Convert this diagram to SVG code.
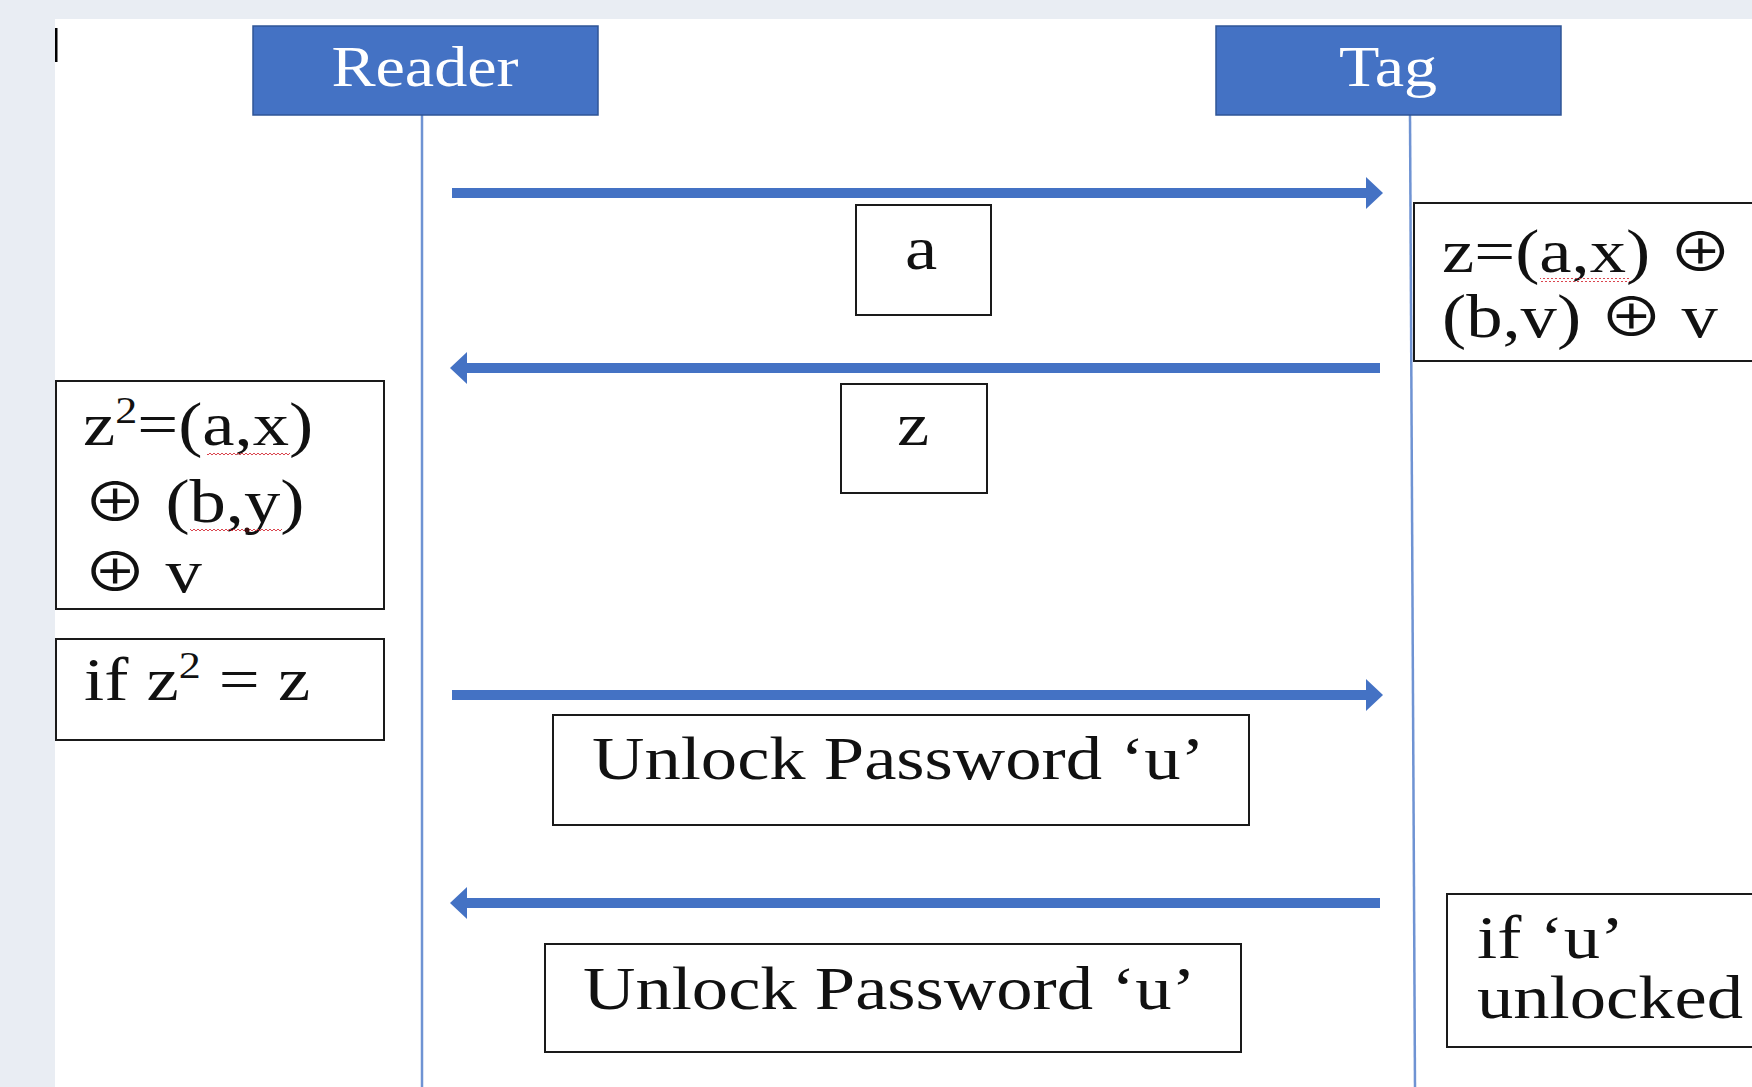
<svg xmlns="http://www.w3.org/2000/svg" width="1752" height="1087" viewBox="0 0 1752 1087">
<defs>
<style>
.bg{fill:#E9EDF3}
.panel{fill:#FFFFFF}
.actor{fill:#4472C4;stroke:#2F5597;stroke-width:1.5}
.actorText{font-family:"Liberation Serif","DejaVu Serif",serif;font-size:57px;fill:#FFFFFF;text-anchor:middle}
.life{stroke:#6F93D3;stroke-width:2.5;fill:none}
.box{fill:#FFFFFF;stroke:#1A1A1A;stroke-width:2}
.t{font-family:"Liberation Serif","DejaVu Serif",serif;font-size:61px;fill:#111111}
.mid{text-anchor:middle}
.op{font-family:"Noto Sans CJK SC","DejaVu Serif",sans-serif;font-size:54px}
.sup{font-size:37px}
.msg{stroke:#4472C4;stroke-width:10;fill:none}
.sq{fill:url(#squiggle)}
</style>
<marker id="head" markerUnits="userSpaceOnUse" markerWidth="18" markerHeight="34" refX="0" refY="16" orient="auto" overflow="visible">
<path d="M0,0 L17,16 L0,32 Z" fill="#4472C4"/>
</marker>
<pattern id="squiggle" patternUnits="userSpaceOnUse" width="4" height="4">
<path d="M0,3 L2,1 L4,3" fill="none" stroke="#D6303A" stroke-width="0.9"/>
</pattern>
</defs>

<rect class="bg" x="0" y="0" width="1752" height="1087"/>
<rect class="panel" x="55" y="19" width="1697" height="1068"/>
<rect x="55" y="28" width="2.5" height="34" fill="#000000"/>

<g id="lifelines">
<line class="life" x1="422" y1="115" x2="422" y2="1087"/>
<line class="life" x1="1410" y1="115" x2="1415" y2="1087"/>
</g>

<g id="reader">
<rect class="actor" x="253" y="26" width="345" height="89"/>
<text class="actorText" transform="translate(425,86) scale(1.16,1)">Reader</text>
</g>
<g id="tag">
<rect class="actor" x="1216" y="26" width="345" height="89"/>
<text class="actorText" transform="translate(1388,86) scale(1.16,1)">Tag</text>
</g>

<g id="connectors">
<line class="msg" x1="452" y1="193" x2="1366" y2="193" marker-end="url(#head)"/>
<line class="msg" x1="1380" y1="368" x2="467" y2="368" marker-end="url(#head)"/>
<line class="msg" x1="452" y1="695" x2="1366" y2="695" marker-end="url(#head)"/>
<line class="msg" x1="1380" y1="903" x2="467" y2="903" marker-end="url(#head)"/>
</g>

<g id="msg-a">
<rect class="box" x="856" y="205" width="135" height="110"/>
<text class="t mid" transform="translate(921,269) scale(1.19,1)">a</text>
</g>
<g id="msg-z">
<rect class="box" x="841" y="384" width="146" height="109"/>
<text class="t mid" transform="translate(913,445) scale(1.19,1)">z</text>
</g>
<g id="msg-unlock-1">
<rect class="box" x="553" y="715" width="696" height="110"/>
<text class="t" transform="translate(592,779) scale(1.19,1)">Unlock Password ‘u’</text>
</g>
<g id="msg-unlock-2">
<rect class="box" x="545" y="944" width="696" height="108"/>
<text class="t" transform="translate(583,1009) scale(1.19,1)">Unlock Password ‘u’</text>
</g>

<g id="reader-compute">
<rect class="box" x="56" y="381" width="328" height="228"/>
<text class="t" transform="translate(83,445) scale(1.19,1)">z<tspan class="sup" dy="-22">2</tspan><tspan dy="22">=(a,x)</tspan><tspan x="0" dy="77"><tspan class="op">⊕</tspan> (b,y)</tspan><tspan x="0" dy="70"><tspan class="op">⊕</tspan> v</tspan></text>
<rect class="sq" x="207" y="451" width="83" height="4"/>
<rect class="sq" x="190" y="528" width="92" height="4"/>
<circle cx="247" cy="530" r="2.5" fill="#3A1010"/>
</g>
<g id="reader-check">
<rect class="box" x="56" y="639" width="328" height="101"/>
<text class="t" transform="translate(84,700) scale(1.19,1)">if z<tspan class="sup" dy="-22">2</tspan><tspan dy="22"> = z</tspan></text>
</g>

<g id="tag-compute">
<rect class="box" x="1414" y="203" width="400" height="158"/>
<text class="t" transform="translate(1442,272) scale(1.19,1)">z=(a,x) <tspan class="op">⊕</tspan><tspan x="0" dy="65">(b,v) <tspan class="op">⊕</tspan> v</tspan></text>
<rect class="sq" x="1540" y="278" width="90" height="4"/>
</g>
<g id="tag-unlocked">
<rect class="box" x="1447" y="894" width="400" height="153"/>
<text class="t" transform="translate(1477,958) scale(1.19,1)">if ‘u’<tspan x="0" dy="60">unlocked</tspan></text>
</g>
</svg>
